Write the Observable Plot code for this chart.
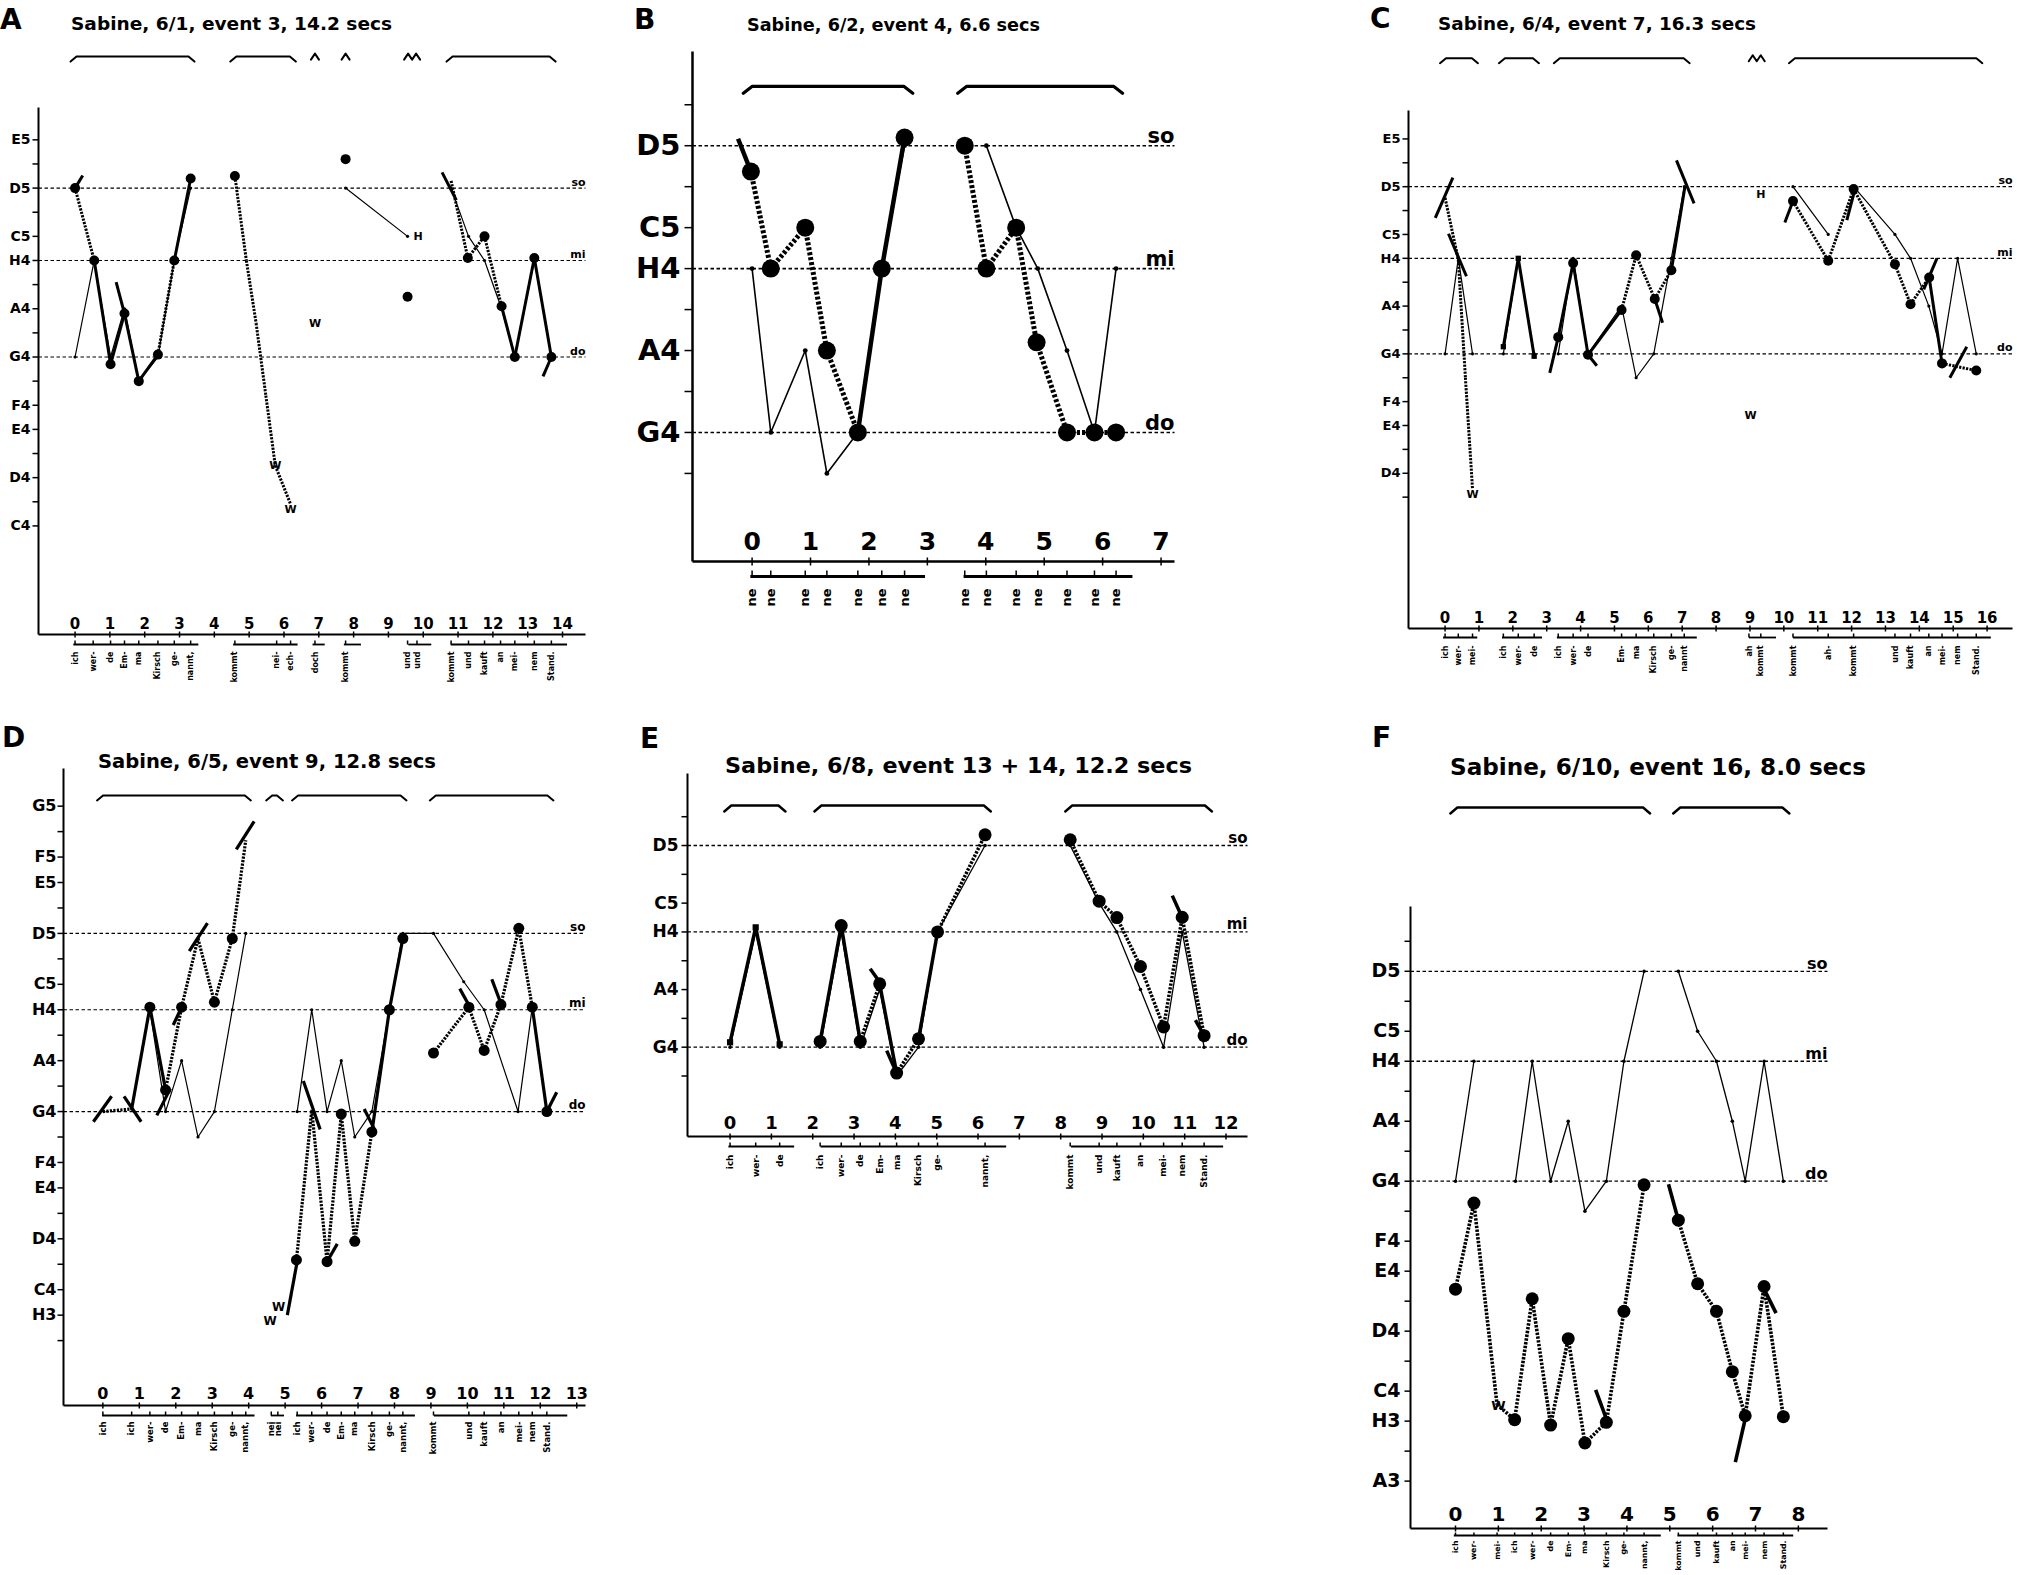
<!DOCTYPE html>
<html><head><meta charset="utf-8">
<script src="https://cdn.jsdelivr.net/npm/d3@7"></script>
<script src="https://cdn.jsdelivr.net/npm/@observablehq/plot@0.6"></script>
<style>
html,body{margin:0;padding:0;background:#fff;}
#root{position:relative;width:2017px;height:1575px;overflow:hidden;background:#fff;font-family:"DejaVu Sans",sans-serif;}
#root svg{position:absolute;}
</style></head>
<body><div id="root"></div>
<script>
// ---------- note names (German: H = B) ----------
const NOTE = {A3:57,"A#3":58,H3:59,C4:60,"C#4":61,D4:62,"D#4":63,E4:64,F4:65,"F#4":66,G4:67,"G#4":68,A4:69,"A#4":70,H4:71,C5:72,"C#5":73,D5:74,"D#5":75,E5:76,F5:77,"F#5":78,G5:79};
const solfa = [["so","D5"],["mi","H4"],["do","G4"]];

// ---------- Panel A ----------
const aYLabels = ["E5","D5","C5","H4","A4","G4","F4","E4","D4","C4"];
const aYMinor = [75,73,70,68,66,63,61];
const aXTicks = [0,1,2,3,4,5,6,7,8,9,10,11,12,13,14];
const aThin = [
  [[0,67],[0.55,71],[1.02,67],[1.42,69],[1.83,66],[2.38,67],[2.85,71],[3.32,74]],
  [[7.77,74],[9.55,72]],
  [[10.8,74],[11.3,72],[11.76,71],[12.25,69],[12.63,67],[13.19,71],[13.68,67]]
];
const aSung = [
  [[0,74,"D"],[0.55,71,"D"],[1.02,66.7,"S"],[1.42,68.8,"S"],[1.83,66,"S"],[2.38,67.1,"S"],[2.85,71,"D"],[3.32,74.4,"S"]],
  [[4.59,74.5,"D"],[4.92,71,"d"],[5.2,68.4,"d"],[5.48,65.4,"d"],[5.75,62.5,"d"],[6.19,60.9,"d"]],
  [[7.77,75.2,"D"]],
  [[9.55,69.5,"D"]],
  [[10.8,74.3,"d"],[11.28,71.1,"D"],[11.76,72,"D"],[12.25,69.1,"D"],[12.63,67,"S"],[13.19,71.1,"S"],[13.68,67,"S"]]
];
const aGlides = [[0,74,0.22,74.52],[1.18,70.1,1.42,68.8],[10.54,74.65,10.95,73.5],[13.68,67,13.44,66.2]];
const aTags = [[5.75,62.5,"W"],[6.19,60.7,"W"],[6.89,68.4,"W"],[9.85,72,"H"]];
const aBrackets = [[-0.13,3.43],[4.46,6.34],[10.67,13.8]];
const aCarets = [[6.89,1],[7.77,1],[9.68,2]];
const aSyl = [[0,"ich"],[0.52,"wer-"],[1.02,"de"],[1.42,"Em-"],[1.83,"ma"],[2.38,"Kirsch"],[2.85,"ge-"],[3.32,"nannt,"],
  [4.59,"kommt"],[5.79,"nei-"],[6.19,"ech-"],[6.89,"doch"],[7.77,"kommt"],[9.55,"und"],[9.82,"und"],
  [10.8,"kommt"],[11.3,"und"],[11.76,"kauft"],[12.22,"an"],[12.63,"mei-"],[13.19,"nem"],[13.68,"Stand."]];
const aTimeline = [[-0.05,3.54],[4.54,6.39],[6.82,7.17],[7.72,8.21],[9.57,10.23],[10.79,14.13]];

// ---------- Panel B ----------
const bYLabels = ["D5","C5","H4","A4","G4"];
const bYMinor = [75,73,70,68,66];
const bXTicks = [0,1,2,3,4,5,6,7];
const bThin = [
  [[0,71],[0.32,67],[0.91,69],[1.28,66],[1.81,67],[2.22,71],[2.61,74]],
  [[4.01,74],[4.52,72],[4.89,71],[5.39,69],[5.86,67],[6.23,71]]
];
const bSung = [
  [[-0.02,73.37,"D"],[0.32,71,"D"],[0.91,72,"D"],[1.28,69,"D"],[1.81,67,"D"],[2.22,71,"S"],[2.61,74.2,"S"]],
  [[3.64,74,"D"],[4.01,71,"D"],[4.52,72,"D"],[4.87,69.2,"D"],[5.39,67,"D"],[5.86,67,"D"],[6.23,67,"D"]]
];
const bGlides = [[-0.24,74.17,-0.02,73.37]];
const bTags = [];
const bBrackets = [[-0.15,2.75],[3.52,6.34]];
const bCarets = [];
const bSyl = [[0,"ne"],[0.32,"ne"],[0.91,"ne"],[1.28,"ne"],[1.81,"ne"],[2.22,"ne"],[2.61,"ne"],
  [3.64,"ne"],[4.01,"ne"],[4.52,"ne"],[4.89,"ne"],[5.39,"ne"],[5.86,"ne"],[6.23,"ne"]];
const bTimeline = [[-0.03,2.96],[3.62,6.51]];

// ---------- Panel C ----------
const cYLabels = ["E5","D5","C5","H4","A4","G4","F4","E4","D4"];
const cYMinor = [75,73,70,68,66,63,61];
const cXTicks = [0,1,2,3,4,5,6,7,8,9,10,11,12,13,14,15,16];
const cThin = [
  [[0,67],[0.39,71],[0.81,67]],
  [[1.72,67],[2.16,71],[2.63,67]],
  [[3.34,67],[3.78,71],[4.22,67],[5.21,69],[5.64,66],[6.16,67],[6.68,71],[7.06,74]],
  [[10.27,74],[11.31,72]],
  [[12.06,74],[13.28,72],[13.74,71],[14.28,69],[14.67,67],[15.13,71],[15.68,67]]
];
const cSung = [
  [[0,73.53,"d"],[0.39,70.94,"d"],[0.6,66,"d"],[0.81,61.34,"d"]],
  [[1.72,67.3,"Q"],[2.16,71,"Q"],[2.63,66.9,"Q"]],
  [[3.34,67.7,"D"],[3.78,70.8,"S"],[4.22,66.96,"S"],[5.21,68.84,"S"],[5.64,71.13,"D"],[6.19,69.3,"D"],[6.68,70.5,"D"],[7.08,74,"s"]],
  [[10.27,73.4,"D"],[11.31,70.9,"D"],[12.06,73.9,"D"],[13.28,70.75,"D"],[13.74,69.08,"D"],[14.29,70.2,"D"],[14.67,66.6,"S"],[15.68,66.3,"D"]]
];
const cGlides = [[-0.29,72.69,0.23,74.38],[0.1,72.03,0.63,70.25],[3.09,66.2,3.34,67.7],[4.22,66.96,4.48,66.5],
  [6.83,75.1,7.35,73.3],[6.19,69.3,6.42,68.3],[10.03,72.5,10.27,73.4],[11.86,72.6,12.12,74],[14.13,69.7,14.52,71],[14.9,66,15.4,67.3]];
const cTags = [[0.81,61.1,"W"],[9.32,73.68,"H"],[9.02,64.43,"W"]];
const cBrackets = [[-0.15,0.97],[1.59,2.77],[3.21,7.22],[10.15,15.86]];
const cCarets = [[9.2,2]];
const cSyl = [[0,"ich"],[0.39,"wer-"],[0.81,"mei-"],[1.72,"ich"],[2.16,"wer-"],[2.63,"de"],
  [3.34,"ich"],[3.78,"wer-"],[4.22,"de"],[5.21,"Em-"],[5.64,"ma"],[6.16,"Kirsch"],[6.68,"ge-"],[7.06,"nannt"],
  [8.97,"ah"],[9.32,"kommt"],[10.27,"kommt"],[11.31,"ah-"],[12.06,"kommt"],[13.28,"und"],[13.74,"kauft"],
  [14.28,"an"],[14.67,"mei-"],[15.13,"nem"],[15.68,"Stand."]];
const cTimeline = [[-0.06,0.95],[1.68,2.86],[3.3,7.43],[8.97,9.77],[10.27,16.11]];

// ---------- Panel D ----------
const dYLabels = ["G5","F5","E5","D5","C5","H4","A4","G4","F4","E4","D4","C4","H3"];
const dYMinor = [78,75,73,70,68,66,63,61,58];
const dXTicks = [0,1,2,3,4,5,6,7,8,9,10,11,12,13];
const dThin = [
  [[0.79,67.1],[1.29,71],[1.72,67],[2.16,69],[2.61,66],[3.06,67],[3.55,71],[3.92,74]],
  [[5.33,67],[5.73,71],[6.15,67],[6.54,69],[6.91,66],[7.38,67],[7.86,71],[8.23,74],[9.07,74],[9.9,72.1],[10.46,71],[11.39,67],[11.78,71.1],[12.18,67]]
];
const dSung = [
  [[0,67,"d"],[0.79,67.1,"d"],[1.29,71.1,"S"],[1.72,67.85,"S"],[2.16,71.1,"D"],[2.61,73.8,"d"],[3.06,71.3,"D"],[3.55,73.8,"D"],[3.92,77.66,"d"]],
  [[5.31,61.17,"D"],[5.73,67.06,"d"],[6.15,61.1,"D"],[6.54,66.9,"D"],[6.91,61.9,"D"],[7.38,66.2,"D"],[7.86,71,"S"],[8.23,73.8,"S"]],
  [[9.07,69.3,"D"],[10.04,71.1,"D"],[10.46,69.4,"D"],[10.92,71.2,"D"],[11.41,74.2,"D"],[11.78,71.1,"D"],[12.18,67,"S"]]
];
const dGlides = [[-0.26,66.6,0.24,67.6],[0.58,67.6,1.05,66.6],[1.48,66.85,1.85,67.9],[1.93,70.4,2.16,71.1],
  [2.37,73.3,2.87,74.4],[3.66,77.3,4.15,78.4],[5.06,59,5.33,61.1],[5.5,68.2,5.96,66.3],[6.15,61.1,6.43,61.8],
  [7.17,67.1,7.45,66.3],[9.79,71.83,10.13,70.95],[10.67,72.2,10.92,71.24],[12.18,67,12.45,67.76]];
const dTags = [[4.82,59.3,"W"],[4.59,58.75,"W"]];
const dBrackets = [[-0.16,4.06],[4.48,4.94],[5.19,8.33],[8.97,12.36]];
const dCarets = [];
const dSyl = [[0,"ich"],[0.79,"ich"],[1.29,"wer-"],[1.72,"de"],[2.16,"Em-"],[2.61,"ma"],[3.06,"Kirsch"],[3.55,"ge-"],[3.92,"nannt,"],
  [4.62,"nei"],[4.8,"nei"],[5.33,"ich"],[5.73,"wer-"],[6.15,"de"],[6.54,"Em-"],[6.91,"ma"],[7.38,"Kirsch"],[7.86,"ge-"],[8.23,"nannt,"],
  [9.07,"kommt"],[10.04,"und"],[10.46,"kauft"],[10.92,"an"],[11.41,"mei-"],[11.78,"nem"],[12.18,"Stand."]];
const dTimeline = [[-0.02,4.16],[4.61,4.97],[5.3,8.56],[9.08,12.74]];

// ---------- Panel E ----------
const eYLabels = ["D5","C5","H4","A4","G4"];
const eYMinor = [75,73,70,68,66];
const eXTicks = [0,1,2,3,4,5,6,7,8,9,10,11,12];
const eThin = [
  [[0,67],[0.62,71],[1.2,67]],
  [[2.18,67],[2.69,71],[3.15,67],[3.62,69],[4.03,66],[4.56,67],[5.02,71],[6.17,74]],
  [[8.23,74],[8.93,72],[9.36,71],[9.93,69],[10.49,67],[10.94,71],[11.47,67]]
];
const eSung = [
  [[0,67.17,"Q"],[0.62,71.16,"Q"],[1.2,67.1,"Q"]],
  [[2.18,67.2,"D"],[2.69,71.22,"S"],[3.15,67.2,"S"],[3.62,69.2,"D"],[4.03,66.1,"S"],[4.56,67.29,"D"],[5.02,71,"S"],[6.17,74.37,"D"]],
  [[8.23,74.2,"D"],[8.93,72.07,"D"],[9.36,71.5,"D"],[9.93,69.8,"D"],[10.49,67.7,"D"],[10.94,71.51,"D"],[11.47,67.4,"D"]]
];
const eGlides = [[3.39,69.72,3.65,69.2],[3.79,66.88,4.03,66.1],[10.7,72.26,10.94,71.5],[11.26,67.94,11.47,67.4]];
const eTags = [];
const eBrackets = [[-0.14,1.34],[2.04,6.31],[8.11,11.66]];
const eCarets = [];
const eSyl = [[0,"ich"],[0.62,"wer-"],[1.2,"de"],[2.18,"ich"],[2.69,"wer-"],[3.15,"de"],[3.62,"Em-"],[4.03,"ma"],[4.56,"Kirsch"],[5.02,"ge-"],[6.17,"nannt,"],
  [8.23,"kommt"],[8.93,"und"],[9.36,"kauft"],[9.93,"an"],[10.49,"mei-"],[10.94,"nem"],[11.47,"Stand."]];
const eTimeline = [[-0.04,1.55],[2.19,6.68],[8.25,11.93]];

// ---------- Panel F ----------
const fYLabels = ["D5","C5","H4","A4","G4","F4","E4","D4","C4","H3","A3"];
const fYMinor = [75,73,70,68,66,63,61,58];
const fXTicks = [0,1,2,3,4,5,6,7,8];
const fThin = [
  [[0,67],[0.43,71]],
  [[1.4,67],[1.79,71],[2.22,67],[2.63,69],[3.02,66],[3.52,67],[3.93,71],[4.4,74]],
  [[5.2,74],[5.65,72],[6.09,71],[6.46,69],[6.76,67],[7.2,71],[7.65,67]]
];
const fSung = [
  [[0,63.4,"D"],[0.43,66.27,"D"],[0.97,59.55,"d"],[1.38,59.05,"D"],[1.79,63.08,"D"],[2.22,58.87,"D"],[2.63,61.75,"D"],[3.02,58.27,"D"],[3.52,58.96,"D"],[3.93,62.66,"D"],[4.4,66.88,"D"]],
  [[5.2,65.7,"D"],[5.65,63.58,"D"],[6.09,62.66,"D"],[6.46,60.65,"D"],[6.76,59.18,"D"],[7.2,63.49,"D"],[7.65,59.15,"D"]]
];
const fGlides = [[3.27,60.04,3.54,59.0],[4.97,66.9,5.2,65.7],[6.53,57.63,6.78,59.2],[7.2,63.4,7.48,62.6]];
const fTags = [[1.0,59.5,"W"]];
const fBrackets = [[-0.12,4.54],[5.08,7.79]];
const fCarets = [];
const fSyl = [[0,"ich"],[0.43,"wer-"],[0.97,"mei-"],[1.38,"ich"],[1.79,"wer-"],[2.22,"de"],[2.63,"Em-"],[3.02,"ma"],[3.52,"Kirsch"],[3.93,"ge-"],[4.4,"nannt,"],
  [5.2,"kommt"],[5.65,"und"],[6.09,"kauft"],[6.46,"an"],[6.76,"mei-"],[7.2,"nem"],[7.65,"Stand."]];
const fTimeline = [[-0.04,4.79],[5.18,7.88]];

// ---------- titles ----------
const titleTexts = ["Sabine, 6/1, event 3, 14.2 secs","Sabine, 6/2, event 4, 6.6 secs","Sabine, 6/4, event 7, 16.3 secs",
  "Sabine, 6/5, event 9, 12.8 secs","Sabine, 6/8, event 13 + 14, 12.2 secs","Sabine, 6/10, event 16, 8.0 secs"];
const panelLetters = ["A","B","C","D","E","F"];

// ---------- layout (pixels) ----------
const layout = [
  {frame:[38,585,107,634],  xd:[-1.05,14.66], yd:[55.5,77.34], by:79.45, title:[71,30,321,18],  letter:[0,29]},
  {frame:[692,1174,51,561], xd:[-1.02,7.23],  yd:[63.85,76.3], by:75.45, title:[747,31,293,18], letter:[634,29]},
  {frame:[1408,2012,110,628],xd:[-1.08,16.75],yd:[55.5,77.19], by:79.38, title:[1438,30,318,18],letter:[1370,28]},
  {frame:[63,585,768,1405], xd:[-1.08,13.24], yd:[55.45,80.48],by:79.42, title:[98,768,338,19], letter:[2,747]},
  {frame:[687,1247,773,1136],xd:[-1.03,12.52],yd:[63.9,76.5], by:75.39, title:[725,773,467,22],letter:[640,748]},
  {frame:[1410,1827,906,1528],xd:[-1.05,8.68],yd:[55.42,76.16],by:79.46, title:[1450,775,416,23],letter:[1372,747]}
];
const styles = [
  {axisW:2, tick:6, yFs:14, yGap:8, xFs:15, xUp:6, xTick:3, refFs:11, refW:1.2, thinW:1.2, thinR:1.6, thickW:3, dash:"2.2,1.3", solidW:3, r:5, glideW:3, tagFs:11, brH:5, brW:6, brS:2, tlPx:10, tlTick:4, tlW:1.8, sylPx:17, sylFs:8, caretW:8, caretH:6, qR:3},
  {axisW:2.5, tick:8, yFs:29, yGap:12, xFs:25, xUp:12, xTick:4, refFs:21, refW:1.6, thinW:1.6, thinR:2.4, thickW:5, dash:"3,2", solidW:4.5, r:9, glideW:4.5, tagFs:14, brH:7, brW:9, brS:3.2, tlPx:15, tlTick:6, tlW:3, sylPx:27, sylFs:13, caretW:10, caretH:6, qR:4},
  {axisW:2, tick:6, yFs:13, yGap:8, xFs:15, xUp:6, xTick:3, refFs:11, refW:1.2, thinW:1.2, thinR:1.6, thickW:3, dash:"2.2,1.3", solidW:3, r:5, glideW:3, tagFs:11, brH:5, brW:6, brS:2, tlPx:9, tlTick:4, tlW:1.8, sylPx:17, sylFs:8, caretW:8, caretH:6, qR:3},
  {axisW:2, tick:6, yFs:16, yGap:7, xFs:16, xUp:7, xTick:3, refFs:12, refW:1.2, thinW:1.2, thinR:1.6, thickW:3.2, dash:"2.2,1.3", solidW:3.2, r:5.5, glideW:3.2, tagFs:12, brH:5, brW:6, brS:2, tlPx:10, tlTick:4, tlW:1.8, sylPx:16, sylFs:8.5, caretW:8, caretH:6, qR:3},
  {axisW:2, tick:6, yFs:17, yGap:9, xFs:18, xUp:8, xTick:3, refFs:15, refW:1.3, thinW:1.3, thinR:1.8, thickW:3.5, dash:"2.4,1.4", solidW:3.5, r:6.5, glideW:3.5, tagFs:12, brH:6, brW:7, brS:2.4, tlPx:10, tlTick:4, tlW:2, sylPx:18, sylFs:9, caretW:8, caretH:6, qR:3.5},
  {axisW:2, tick:6, yFs:19, yGap:10, xFs:20, xUp:8, xTick:3, refFs:16, refW:1.3, thinW:1.3, thinR:1.8, thickW:3.6, dash:"2.4,1.4", solidW:3.6, r:6.5, glideW:3.6, tagFs:13, brH:6, brW:7, brS:2.4, tlPx:7, tlTick:3, tlW:2, sylPx:12, sylFs:7.8, caretW:8, caretH:6, qR:3.5}
];
const panelData = [
  {yl:aYLabels, ym:aYMinor, xt:aXTicks, thin:aThin, sung:aSung, gl:aGlides, tags:aTags, br:aBrackets, ca:aCarets, syl:aSyl, tl:aTimeline},
  {yl:bYLabels, ym:bYMinor, xt:bXTicks, thin:bThin, sung:bSung, gl:bGlides, tags:bTags, br:bBrackets, ca:bCarets, syl:bSyl, tl:bTimeline},
  {yl:cYLabels, ym:cYMinor, xt:cXTicks, thin:cThin, sung:cSung, gl:cGlides, tags:cTags, br:cBrackets, ca:cCarets, syl:cSyl, tl:cTimeline},
  {yl:dYLabels, ym:dYMinor, xt:dXTicks, thin:dThin, sung:dSung, gl:dGlides, tags:dTags, br:dBrackets, ca:dCarets, syl:dSyl, tl:dTimeline},
  {yl:eYLabels, ym:eYMinor, xt:eXTicks, thin:eThin, sung:eSung, gl:eGlides, tags:eTags, br:eBrackets, ca:eCarets, syl:eSyl, tl:eTimeline},
  {yl:fYLabels, ym:fYMinor, xt:fXTicks, thin:fThin, sung:fSung, gl:fGlides, tags:fTags, br:fBrackets, ca:fCarets, syl:fSyl, tl:fTimeline}
];

const FONT = "DejaVu Sans";
const root = document.getElementById("root");

function drawPanel(D, L, S) {
  const [left, right, top, bottom] = L.frame;
  const ML = 80, MR = 60, MT = 90, MB = 110;
  const W = right - left + ML + MR, H = bottom - top + MT + MB;
  const [X0, X1] = L.xd, [Y0, Y1] = L.yd;
  const ux = (X1 - X0) / (right - left), uy = (Y1 - Y0) / (bottom - top);

  const thin = D.thin.flatMap((g, i) => g.map(([t, m]) => ({t, m, g: i})));
  const segs = [], dots = [], squares = [];
  D.sung.forEach(g => g.forEach(([t, m, f], j) => {
    if (f === "D" || f === "S") dots.push({t, m});
    if (f === "Q") squares.push({t, m});
    if (j > 0) segs.push({t1: g[j-1][0], m1: g[j-1][1], t2: t, m2: m, dotted: f === "D" || f === "d"});
  }));
  const glides = D.gl.map(([t1, m1, t2, m2]) => ({t1, m1, t2, m2}));
  const brPts = [];
  D.br.forEach(([t1, t2], i) => {
    const yb = L.by, h = S.brH * uy, w = S.brW * ux;
    brPts.push({t: t1, m: yb - h, z: i}, {t: t1 + w, m: yb, z: i}, {t: t2 - w, m: yb, z: i}, {t: t2, m: yb - h, z: i});
  });
  D.ca.forEach(([t, n], i) => {
    const cw = S.caretW * ux, ch = S.caretH * uy, yb = L.by + 0.5 * ch;
    const x0 = t - n * cw / 2;
    for (let k = 0; k < n; k++) {
      brPts.push({t: x0 + k * cw, m: yb - ch, z: 100 + i}, {t: x0 + (k + 0.5) * cw, m: yb, z: 100 + i});
    }
    brPts.push({t: x0 + n * cw, m: yb - ch, z: 100 + i});
  });
  const yLab = D.yl.map(n => ({n, m: NOTE[n]}));
  const yTicks = [...D.yl.map(n => NOTE[n]), ...D.ym];
  const refs = solfa.map(([s, n]) => ({s, m: NOTE[n]}));
  const syl = D.syl.map(([t, s]) => ({t, s}));
  const tlY = Y0 - S.tlPx * uy;

  const txt = {fontFamily: FONT, fontWeight: "bold", fill: "black"};
  const marks = [
    Plot.link([{a: X0, b: Y0, c: X0, d: Y1}], {x1: "a", y1: "b", x2: "c", y2: "d", stroke: "black", strokeWidth: S.axisW}),
    Plot.link([{a: X0, b: Y0, c: X1, d: Y0}], {x1: "a", y1: "b", x2: "c", y2: "d", stroke: "black", strokeWidth: S.axisW}),
    Plot.link(yTicks, {x1: X0 - S.tick * ux, x2: X0, y1: d => d, y2: d => d, stroke: "black", strokeWidth: 1.5}),
    Plot.text(yLab, {x: X0 - S.yGap * ux, y: "m", text: "n", textAnchor: "end", lineAnchor: "middle", fontSize: S.yFs, ...txt}),
    Plot.link(D.xt, {x1: d => d, x2: d => d, y1: Y0 - S.xTick * uy, y2: Y0 + S.xTick * uy, stroke: "black", strokeWidth: 1.5}),
    Plot.text(D.xt, {x: d => d, y: Y0 + S.xUp * uy, text: d => String(d), lineAnchor: "bottom", fontSize: S.xFs, ...txt}),
    Plot.link(refs, {x1: X0, x2: X1, y1: "m", y2: "m", stroke: "black", strokeWidth: S.refW, strokeDasharray: "3.5,2.5"}),
    Plot.text(refs, {x: X1, y: d => d.m + 2.5 * uy, text: "s", textAnchor: "end", lineAnchor: "bottom", fontSize: S.refFs, ...txt}),
    Plot.line(thin, {x: "t", y: "m", z: "g", stroke: "black", strokeWidth: S.thinW}),
    Plot.dot(thin, {x: "t", y: "m", r: S.thinR, fill: "black"}),
    Plot.link(segs.filter(d => d.dotted), {x1: "t1", y1: "m1", x2: "t2", y2: "m2", stroke: "black", strokeWidth: S.thickW, strokeDasharray: S.dash}),
    Plot.link(segs.filter(d => !d.dotted), {x1: "t1", y1: "m1", x2: "t2", y2: "m2", stroke: "black", strokeWidth: S.solidW}),
    Plot.link(glides, {x1: "t1", y1: "m1", x2: "t2", y2: "m2", stroke: "black", strokeWidth: S.glideW}),
    Plot.dot(dots, {x: "t", y: "m", r: S.r, fill: "black"}),
    Plot.dot(squares, {x: "t", y: "m", r: S.qR, symbol: "square", fill: "black"}),
    Plot.text(D.tags, {x: d => d[0], y: d => d[1], text: d => d[2], fontSize: S.tagFs, lineAnchor: "middle", ...txt}),
    Plot.line(brPts, {x: "t", y: "m", z: "z", stroke: "black", strokeWidth: S.brS}),
    Plot.link(D.tl, {x1: d => d[0], x2: d => d[1], y1: tlY, y2: tlY, stroke: "black", strokeWidth: S.tlW}),
    Plot.link(syl, {x1: "t", x2: "t", y1: tlY, y2: tlY + S.tlTick * uy, stroke: "black", strokeWidth: 1.5}),
    Plot.text(syl, {x: "t", y: Y0 - S.sylPx * uy, text: "s", rotate: -90, textAnchor: "end", lineAnchor: "middle", fontSize: S.sylFs, ...txt})
  ];

  const svg = Plot.plot({
    width: W, height: H,
    marginLeft: ML, marginRight: MR, marginTop: MT, marginBottom: MB,
    x: {domain: [X0, X1], axis: null},
    y: {domain: [Y0, Y1], axis: null},
    style: {background: "transparent", overflow: "visible", maxWidth: "none", fontFamily: FONT},
    marks
  });
  svg.style.left = (left - ML) + "px";
  svg.style.top = (top - MT) + "px";
  svg.style.position = "absolute";
  root.appendChild(svg);
}

layout.forEach((L, i) => drawPanel(panelData[i], L, styles[i]));

const over = d3.create("svg").attr("width", 2017).attr("height", 1575).style("left", "0px").style("top", "0px")
  .attr("font-family", FONT).attr("font-weight", "bold");
layout.forEach((L, i) => {
  const [x, y, w, fs] = L.title;
  over.append("text").attr("x", x).attr("y", y).attr("font-size", fs)
    .attr("textLength", w).attr("lengthAdjust", "spacingAndGlyphs").text(titleTexts[i]);
  over.append("text").attr("x", L.letter[0]).attr("y", L.letter[1]).attr("font-size", 28).text(panelLetters[i]);
});
root.appendChild(over.node());
</script>
</body></html>
